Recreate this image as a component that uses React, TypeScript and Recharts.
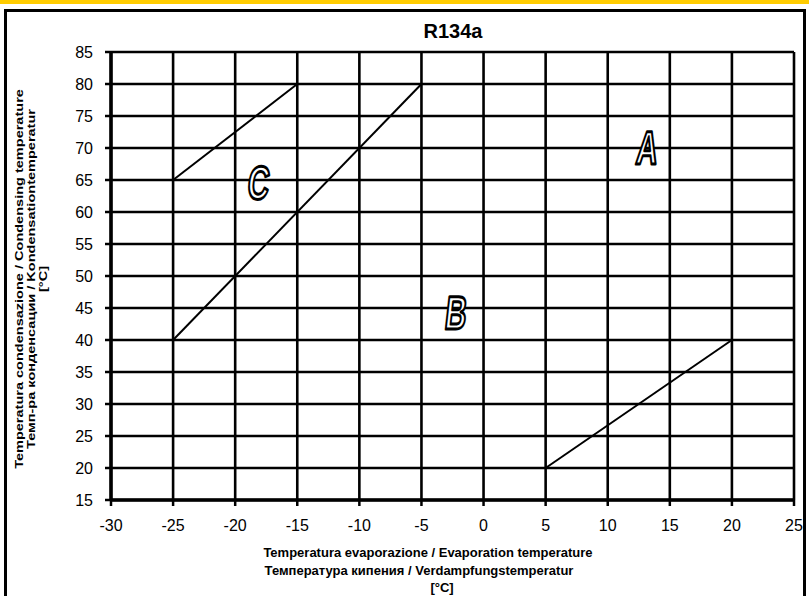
import React from 'react';
import { ComposedChart, Scatter, XAxis, YAxis, CartesianGrid } from 'recharts';

// Limiti di applicazione R134a
const xTicks = [-30, -25, -20, -15, -10, -5, 0, 5, 10, 15, 20, 25];
const yTicks = [15, 20, 25, 30, 35, 40, 45, 50, 55, 60, 65, 70, 75, 80, 85];

// confini tra le zone (evaporazione, condensazione)
const confineSuperiore = [{ x: -25, y: 65 }, { x: -15, y: 80 }];
const confineBC = [{ x: -25, y: 40 }, { x: -5, y: 80 }];
const confineInferiore = [{ x: 5, y: 20 }, { x: 20, y: 40 }];

// lettere delle zone
const zoneNomi = ['A', 'B', 'C'];
const zoneX = [13.2, -2.2, -18.1];
const zoneY = [70.1, 44.3, 64.6];
const zone = zoneNomi.map((nome, i) => ({ x: zoneX[i], y: zoneY[i], nome }));

const FONT = '"Liberation Sans", Arial, sans-serif';

const nessunPunto = () => null;

const Lettera = (props: any) => {
  const { cx, cy, payload } = props;
  return (
    <text
      transform={`translate(${cx},${cy}) scale(0.63,1) skewX(-10)`}
      textAnchor="middle"
      dominantBaseline="central"
      fontFamily={FONT}
      fontWeight="bold"
      fontSize={47}
      fill="#fff"
      stroke="#000"
      strokeWidth={3}
      strokeLinejoin="round"
    >
      {payload.nome}
    </text>
  );
};

const titoloX: React.CSSProperties = {
  position: 'absolute',
  whiteSpace: 'nowrap',
  fontSize: 13,
  fontWeight: 'bold',
  lineHeight: '14px',
};

const App: React.FC = () => {
  return (
    <div style={{ position: 'fixed', left: 0, top: 0, width: 809, height: 596, background: '#fff', overflow: 'hidden', fontFamily: FONT }}>
      <div style={{ position: 'absolute', left: 0, top: 0, width: 809, height: 4, background: '#FFCC00' }} />
      <div style={{ position: 'absolute', left: 453, top: 20, transform: 'translateX(-50%)', fontSize: 20, fontWeight: 'bold' }}>R134a</div>

      <div style={{ position: 'absolute', left: 0, top: 0 }}>
        <ComposedChart width={809} height={596} margin={{ top: 52, right: 15, bottom: 66, left: 51 }}>
          <CartesianGrid stroke="#000" strokeWidth={2.6} horizontalValues={yTicks} verticalValues={xTicks} />
          <XAxis
            type="number"
            dataKey="x"
            domain={[-30, 25]}
            ticks={xTicks}
            interval={0}
            height={30}
            axisLine={{ stroke: '#000', strokeWidth: 3.5 }}
            tickLine={{ stroke: '#000', strokeWidth: 2.5 }}
            tickSize={6}
            tickMargin={14}
            tick={{ fill: '#000', fontSize: 16, fontFamily: FONT }}
            allowDataOverflow
          />
          <YAxis
            type="number"
            dataKey="y"
            domain={[15, 85]}
            ticks={yTicks}
            interval={0}
            width={60}
            axisLine={{ stroke: '#000', strokeWidth: 3.5 }}
            tickLine={{ stroke: '#000', strokeWidth: 2.5 }}
            tickSize={6}
            tickMargin={12}
            tick={{ fill: '#000', fontSize: 16, fontFamily: FONT }}
            allowDataOverflow
          />
          <Scatter data={confineSuperiore} line={{ stroke: '#000', strokeWidth: 2 }} shape={nessunPunto} isAnimationActive={false} />
          <Scatter data={confineBC} line={{ stroke: '#000', strokeWidth: 2 }} shape={nessunPunto} isAnimationActive={false} />
          <Scatter data={confineInferiore} line={{ stroke: '#000', strokeWidth: 2 }} shape={nessunPunto} isAnimationActive={false} />
          <Scatter data={zone} shape={Lettera} isAnimationActive={false} />
        </ComposedChart>
      </div>

      {/* titolo asse Y */}
      <div style={{ position: 'absolute', left: 31, top: 279, transform: 'translate(-50%,-50%) rotate(-90deg) scaleX(1.32)', whiteSpace: 'nowrap', textAlign: 'center', fontSize: 11, fontWeight: 'bold', lineHeight: '12px' }}>
        <div>Temperatura condensazione / Condensing temperature</div>
        <div>Темп-ра конденсации / Kondensationtemperatur</div>
        <div>[°C]</div>
      </div>

      {/* titolo asse X */}
      <div style={{ ...titoloX, left: 428, top: 553, transform: 'translate(-50%,-50%)' }}>Temperatura evaporazione / Evaporation temperature</div>
      <div style={{ ...titoloX, left: 419, top: 571, transform: 'translate(-50%,-50%)' }}>Температура кипения / Verdampfungstemperatur</div>
      <div style={{ ...titoloX, left: 442, top: 588, transform: 'translate(-50%,-50%)' }}>[°C]</div>

      {/* cornice */}
      <div style={{ position: 'absolute', left: 4, top: 9, width: 802, height: 600, border: '3px solid #000', boxSizing: 'border-box', pointerEvents: 'none' }} />
    </div>
  );
};

export default App;
